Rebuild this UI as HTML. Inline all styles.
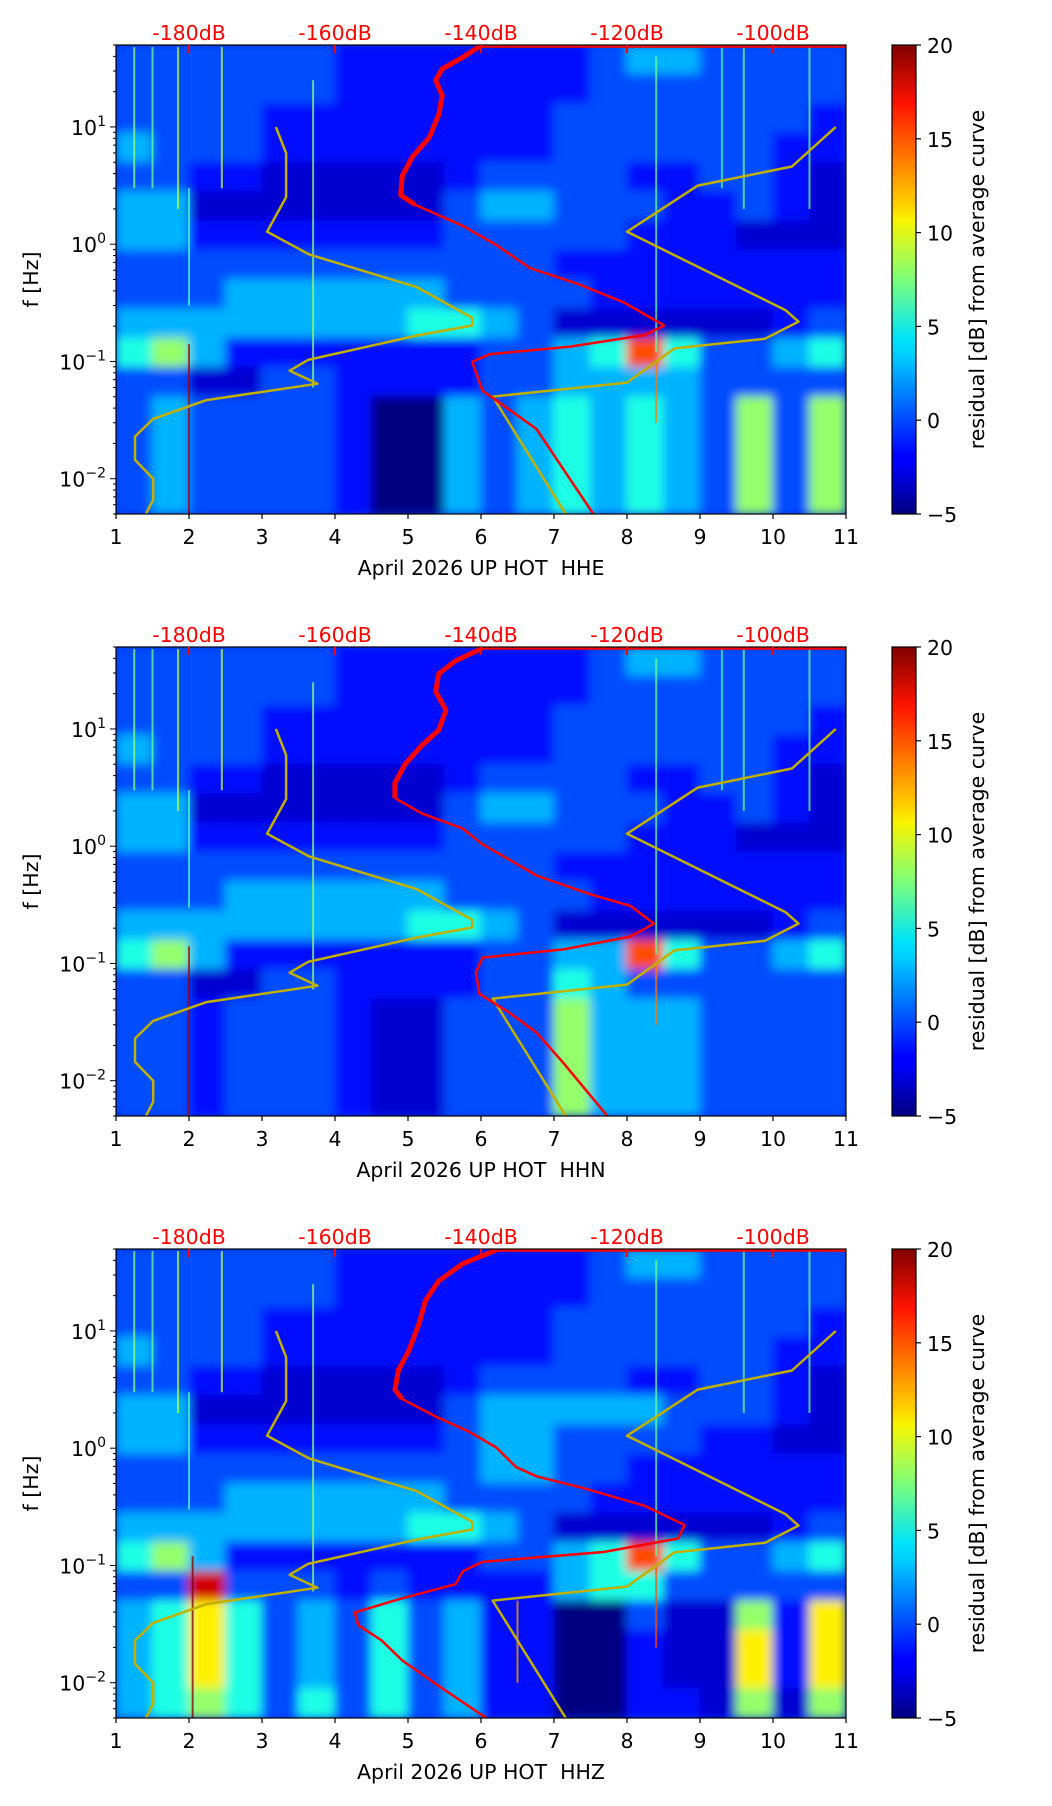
<!DOCTYPE html>
<html><head><meta charset="utf-8">
<style>
html,body{margin:0;padding:0;background:#fff;}
svg{display:block;font-family:"DejaVu Sans","Liberation Sans",sans-serif;}
text{white-space:pre;}
</style></head>
<body>
<svg id="fig" width="1052" height="1806" viewBox="0 0 1052 1806" xmlns="http://www.w3.org/2000/svg">
<defs>
<linearGradient id="jet" x1="0" y1="1" x2="0" y2="0">
<stop offset="0" stop-color="#00007f"/><stop offset="0.11" stop-color="#0000ff"/>
<stop offset="0.125" stop-color="#0000ff"/><stop offset="0.34" stop-color="#00d0ff"/>
<stop offset="0.375" stop-color="#00e4f8"/><stop offset="0.5" stop-color="#7dff7a"/>
<stop offset="0.625" stop-color="#f8f500"/><stop offset="0.66" stop-color="#ffd000"/>
<stop offset="0.875" stop-color="#ff1300"/><stop offset="1" stop-color="#7f0000"/>
</linearGradient>
<filter id="soft" x="-5%" y="-5%" width="110%" height="110%"><feGaussianBlur stdDeviation="5" edgeMode="duplicate"/></filter>
</defs>
</svg>
<script>
// ---- data ----
const panelNames = ["HHE","HHN","HHZ"];
const xTicks = [1,2,3,4,5,6,7,8,9,10,11];
const dbTicks = [-180,-160,-140,-120,-100];
const cbTicks = [20,15,10,5,0,-5];
const levelDb = [-5,-3,-1.5,0,2.5,5,8,11,15,18];
// heatmap rows: 16 quarter-decade bands from 50 Hz down to 0.005 Hz, 20 half-day columns
const gridHHE = [
"33333322222223443333","33333322222223333333","33332222222233333332","43332222222233333322",
"33221111123333223321","44111111134433322321","44222222233333222111","33333333333322222222",
"33344444433332222222","44444444554311111123","56422222223345853345","33113322223344443333",
"34333320043454543636","34333320043454543636","34333320043454543636","34333320043454543636"];
const gridHHN = [
"33333322222223443333","33333322222223333333","33332222222233333332","43332222222233333322",
"33221111123333223321","44111111134433322321","44222222233333222111","33333333333322222222",
"33344444433332222222","44444444554311111123","56422222223344853345","33113322223354333333",
"33233321133364443333","33233321133364443333","33233321133364443333","33233321133364443333"];
const gridHHZ = [
"33333322222223443333","33333322222223333333","33332222222233333332","43332222222233333322",
"33221111123333223321","44111111134444433321","44222222234433332211","33333333334433222222",
"33344444433332222222","44444444554311111123","56422222223345853345","33933323222245533333",
"45753435342200311627","45753435342200211727","45753435342200211727","45653535342200221616"];
// bright vertical stripes: [day, fLow, fHigh, dB]
const stripesHHE = [[2.0,0.005,0.14,19],[3.7,0.06,25,8],[2.0,0.3,3,6],[1.25,3,48,8],[1.5,3,48,7],[1.85,2,48,9],[2.45,3,48,9],[8.4,0.12,40,7],[8.4,0.03,0.1,14],[9.6,2,48,7],[10.5,2,48,7],[9.3,3,48,6]];
const stripesHHN = [[2.0,0.005,0.14,19],[3.7,0.06,25,8],[2.0,0.3,3,6],[1.25,3,48,8],[1.5,3,48,7],[1.85,2,48,9],[2.45,3,48,9],[8.4,0.12,40,7],[8.4,0.03,0.1,14],[9.6,2,48,7],[10.5,2,48,7],[9.3,3,48,6]];
const stripesHHZ = [[2.05,0.005,0.12,20],[3.7,0.06,25,8],[2.0,0.3,3,6],[1.25,3,48,8],[1.5,3,48,7],[1.85,2,48,9],[2.45,3,48,9],[8.4,0.12,40,7],[8.4,0.02,0.1,15],[6.5,0.01,0.05,13],[9.6,2,48,7],[10.5,2,48,7]];
// low / high noise models (dB vs log10 f)
const nlnmDb = [-168.1,-166.7,-166.7,-169.3,-163.5,-148.8,-141.2,-141.2,-148.5,-163.7,-166.2,-162.4,-177.6,-184.9,-187.4,-187.4,-184.9,-184.9,-185.9];
const nlnmLogF = [1.0,0.777,0.402,0.107,-0.089,-0.366,-0.628,-0.693,-0.775,-0.987,-1.079,-1.19,-1.33,-1.49,-1.64,-1.84,-2.0,-2.18,-2.30];
const nhnmDb = [-91.4,-97.4,-110.3,-120,-98.3,-96.5,-101.1,-113.5,-120,-138.4,-128.4];
const nhnmLogF = [1.0,0.663,0.50,0.107,-0.562,-0.66,-0.807,-0.889,-1.18,-1.30,-2.30];
// average PSD curves
const avgDbHHE = [-140.2,-142.5,-145.3,-146.2,-145.3,-145.8,-147.1,-149.4,-150.8,-151.0,-149.0,-142.5,-137.9,-133.3,-126.9,-120.4,-114.9,-117.6,-127.8,-138.8,-141.2,-139.8,-136.1,-132.4,-129.6,-124.6];
const avgLogFHHE = [1.686,1.594,1.496,1.398,1.268,1.104,0.908,0.745,0.581,0.418,0.336,0.157,-0.007,-0.203,-0.334,-0.497,-0.693,-0.775,-0.873,-0.938,-1.004,-1.249,-1.412,-1.576,-1.837,-2.301];
const avgDbHHN = [-139.8,-143.5,-145.8,-146.2,-144.8,-145.8,-148.1,-150.4,-151.8,-151.8,-148.1,-142.5,-139.8,-136.1,-132.4,-125.0,-119.5,-116.3,-119.5,-128.7,-139.8,-140.7,-140.2,-136.1,-132.4,-128.7,-122.7];
const avgLogFHHN = [1.69,1.58,1.47,1.32,1.16,0.99,0.86,0.70,0.54,0.41,0.28,0.15,0.016,-0.115,-0.25,-0.41,-0.51,-0.66,-0.77,-0.88,-0.95,-1.08,-1.26,-1.42,-1.59,-1.85,-2.30];
const avgDbHHZ = [-137.9,-142.5,-145.8,-147.6,-148.5,-149.9,-151.3,-151.8,-150.8,-146.2,-141.6,-137.9,-135.2,-132.4,-126.0,-117.6,-112.1,-113.0,-123.2,-139.8,-142.5,-143.5,-150.8,-157.3,-156.8,-153.6,-150.8,-146.2,-139.3];
const avgLogFHHZ = [1.69,1.574,1.426,1.26,1.06,0.83,0.667,0.50,0.42,0.27,0.14,0.006,-0.16,-0.24,-0.34,-0.49,-0.655,-0.77,-0.885,-0.97,-1.05,-1.16,-1.28,-1.40,-1.51,-1.64,-1.81,-2.01,-2.30];

const grids=[gridHHE,gridHHN,gridHHZ], stripes=[stripesHHE,stripesHHN,stripesHHZ];
const avgDb=[avgDbHHE,avgDbHHN,avgDbHHZ], avgLogF=[avgLogFHHE,avgLogFHHN,avgLogFHHZ];

// ---- layout ----
const NS="http://www.w3.org/2000/svg";
const svg=document.getElementById('fig');
const L=116,R=846,H=469,tops=[45,647,1249];
const CBX=892,CBW=24,FS=20.5;
const LOGMAX=Math.log10(50),LOGMIN=Math.log10(0.005);
function mk(tag,attrs,parent){const e=document.createElementNS(NS,tag);for(const k in attrs)e.setAttribute(k,attrs[k]);(parent||svg).appendChild(e);return e;}
function jet(v){let t=(v+5)/25;t=Math.max(0,Math.min(1,t));
 const r=Math.max(0,Math.min(1,1.5-Math.abs(4*t-3))),g=Math.max(0,Math.min(1,1.5-Math.abs(4*t-2))),b=Math.max(0,Math.min(1,1.5-Math.abs(4*t-1)));
 return `rgb(${Math.round(r*255)},${Math.round(g*255)},${Math.round(b*255)})`;}

panelNames.forEach((nm,p)=>{
 const T=tops[p],B=T+H;
 const xs=d=>L+(d-1)/10*(R-L);
 const xdb=db=>xs((db+200)/10);
 const ylog=lf=>T+(LOGMAX-lf)/(LOGMAX-LOGMIN)*H;
 const yf=f=>ylog(Math.log10(f));
 const g=mk('g',{});
 
 
 const cid='clip'+p;
 const cp=mk('clipPath',{id:cid},g);mk('rect',{x:L,y:T,width:R-L,height:H},cp);
 const hm=mk('g',{'clip-path':`url(#${cid})`},g);
 
 
 mk('rect',{x:L,y:T,width:R-L,height:H,fill:'#0030e0'},hm);
 const cells=mk('g',{filter:'url(#soft)'},hm);
 const grid=grids[p];
 grid.forEach((row,ri)=>{
  const lfTop=LOGMAX-ri*0.25,lfBot=lfTop-0.25;
  for(let ci=0;ci<row.length;ci++){
   const v=levelDb[+row[ci]];
   const c=mk('rect',{x:xs(1+ci*0.5)-0.5,y:ylog(lfTop)-0.5,width:xs(1.5)-xs(1)+1,height:ylog(lfBot)-ylog(lfTop)+1,fill:jet(v)},cells);
   
   
  }
 });
 stripes[p].forEach(s=>{
  const st=mk('rect',{x:xs(s[0])-1,y:yf(s[2]),width:2,height:yf(s[1])-yf(s[2]),fill:jet(s[3]),opacity:0.75},hm);
  
  
 });
 // curves
 const pathOf=(dbs,lfs)=>dbs.map((d,i)=>(i?'L':'M')+xdb(d).toFixed(1)+','+ylog(lfs[i]).toFixed(1)).join('');
 const lo=mk('path',{d:pathOf(nlnmDb,nlnmLogF),fill:'none',stroke:'#c2b000','stroke-width':2.5,'stroke-linejoin':'round'},hm);
 
 
 const hi=mk('path',{d:pathOf(nhnmDb,nhnmLogF),fill:'none',stroke:'#c2b000','stroke-width':2.5,'stroke-linejoin':'round'},hm);
 
 
 const ad=avgDb[p],al=avgLogF[p];
 const topLine=mk('path',{d:`M${xdb(ad[0])},${T+1.5}L${R},${T+1.5}`,stroke:'#ff0000','stroke-width':2.5,fill:'none'},hm);
 
 
 const up=[],dn=[];
 ad.forEach((d,i)=>{if(al[i]>=0.33)up.push(i);if(al[i]<=0.42)dn.push(i);});
 const av1=mk('path',{d:pathOf(up.map(i=>ad[i]),up.map(i=>al[i])),fill:'none',stroke:'#ff0000','stroke-width':5,'stroke-linejoin':'round'},hm);
 
 
 const av2=mk('path',{d:pathOf(dn.map(i=>ad[i]),dn.map(i=>al[i])),fill:'none',stroke:'#ff0000','stroke-width':2.5,'stroke-linejoin':'round'},hm);
 
 
 // frame
 const fr=mk('rect',{x:L,y:T,width:R-L,height:H,fill:'none',stroke:'#000','stroke-width':1.2},g);
 
 
 // x ticks
 xTicks.forEach(t=>{
  mk('line',{x1:xs(t),x2:xs(t),y1:B,y2:B+5,stroke:'#000','stroke-width':1.2},g);
  const tx=mk('text',{x:xs(t),y:B+30,'text-anchor':'middle','font-size':FS,fill:'#000'},g);
  tx.textContent=t;
  
  
 });
 const xl=mk('text',{x:(L+R)/2,y:B+61,'text-anchor':'middle','font-size':FS,fill:'#000'},g);
 xl.textContent='April 2026 UP HOT  '+nm;
 
 
 // dB ticks on top
 dbTicks.forEach(d=>{
  mk('line',{x1:xdb(d),x2:xdb(d),y1:T,y2:T+8,stroke:'#ff0000','stroke-width':2},g);
  const tx=mk('text',{x:xdb(d),y:T-5,'text-anchor':'middle','font-size':FS,fill:'#ff0000'},g);
  tx.textContent=d+'dB';
  
  
 });
 // y ticks
 for(let e=-3;e<=1;e++){
  for(let m=1;m<=9;m++){
   const f=m*Math.pow(10,e);if(f<0.005-1e-9||f>50+1e-9)continue;
   const y=yf(f);
   mk('line',{x1:L-(m===1?6:3),x2:L,y1:y,y2:y,stroke:'#000','stroke-width':1},g);
   if(m===1){
    const tx=mk('text',{x:L-10,y:y+8,'text-anchor':'end','font-size':FS,fill:'#000'},g);
    
    
    tx.appendChild(document.createTextNode('10'));
    const sup=mk('tspan',{'font-size':14,dy:-9},tx);sup.textContent=e<0?'\u2212'+(-e):''+e;
   }
  }
 }
 const yl=mk('text',{x:38,y:(T+B)/2,'text-anchor':'middle','font-size':FS,fill:'#000',transform:`rotate(-90 38 ${(T+B)/2})`},g);
 yl.textContent='f [Hz]';
 
 
 // colorbar
 const cb=mk('rect',{x:CBX,y:T,width:CBW,height:H,fill:'url(#jet)',stroke:'#000','stroke-width':1.2},g);
 
 
 cbTicks.forEach(v=>{
  const y=B-(v+5)/25*H;
  mk('line',{x1:CBX+CBW,x2:CBX+CBW+5,y1:y,y2:y,stroke:'#000','stroke-width':1.2},g);
  const tx=mk('text',{x:CBX+CBW+11,y:y+8,'font-size':FS,fill:'#000'},g);
  tx.textContent=v<0?'\u2212'+(-v):''+v;
  
  
 });
 const cl=mk('text',{x:984,y:(T+B)/2,'text-anchor':'middle','font-size':FS,fill:'#000',transform:`rotate(-90 984 ${(T+B)/2})`},g);
 cl.textContent='residual [dB] from average curve';
 
 
});
</script>
</body></html>
